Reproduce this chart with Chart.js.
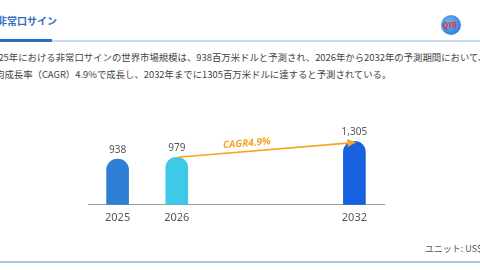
<!DOCTYPE html>
<html>
<head>
<meta charset="utf-8">
<script src="https://cdn.jsdelivr.net/npm/chart.js@4.4.0/dist/chart.umd.min.js"></script>
<style>
  html, body { margin: 0; padding: 0; }
  body { width: 480px; height: 270px; overflow: hidden; position: relative; background: #fff;
         font-family: "Noto Sans CJK JP", "Noto Sans", sans-serif; }
  .title { position: absolute; left: -3px; top: 13px; font-size: 10px; font-weight: bold; color: #2f6fc0; white-space: nowrap; }
  .rule { position: absolute; left: 0; top: 40px; width: 480px; height: 2px; background: #c9dbf0; }
  .rule-strong { position: absolute; left: 0; top: 39px; width: 52px; height: 3px; background: #2b6cc4; }
  .desc { position: absolute; font-size: 9.4px; color: #444; white-space: nowrap; }
  .unit { position: absolute; right: -2px; top: 242px; font-size: 9px; color: #555; white-space: nowrap; }
  .footer { position: absolute; left: 0; top: 261px; width: 480px; height: 2px; background: #a9c4e6; }
  .logo { position: absolute; left: 441px; top: 15px; width: 20px; height: 20px; border-radius: 50%;
          background: radial-gradient(circle at 40% 35%, #6fb4f0, #1f6fd0); }
  .logo span { position: absolute; left: 2px; top: 5px; font-size: 7px; font-weight: bold; color: #e0302a; }
  #wrap { position: absolute; left: 0; top: 100px; width: 480px; height: 132px; }
</style>
</head>
<body>
<div class="title">非常口サイン</div>
<div class="rule"></div>
<div class="rule-strong"></div>
<div class="logo"><span>QYR</span></div>
<div class="desc" style="left:-12px; top:50px;">2025年における非常口サインの世界市場規模は、938百万米ドルと予測され、2026年から2032年の予測期間において、年平</div>
<div class="desc" style="left:-5px; top:67px;">均成長率（CAGR）4.9%で成長し、2032年までに1305百万米ドルに達すると予測されている。</div>
<div class="unit">ユニット: US$</div>
<div class="footer"></div>
<div id="wrap"><canvas id="chart"></canvas></div>

<script>
//Data
var years = ["2025", "2026", "", "", "2032"];
var marketSize = [938, 979, null, null, 1305];
var valueLabels = ["938", "979", "", "", "1,305"];
var barColors = ["#2f7fd6", "#3ec9e6", "#2f7fd6", "#2f7fd6", "#1760df"];
var cagrText = "CAGR4.9%";

//Value labels above each bar + the CAGR arrow between 2026 and 2032
var overlayPlugin = {
  id: 'overlay',
  afterDatasetsDraw: function (chart) {
    var ctx = chart.ctx;
    var meta = chart.getDatasetMeta(0);
    ctx.save();
    ctx.font = '10px "Noto Sans", sans-serif';
    ctx.fillStyle = '#555';
    ctx.textAlign = 'center';
    ctx.textBaseline = 'bottom';
    meta.data.forEach(function (bar, i) {
      if (marketSize[i] == null) return;
      ctx.fillText(valueLabels[i], bar.x, bar.y - 4);
    });

    var from = meta.data[1], to = meta.data[4];
    var x1 = from.x + 1, y1 = from.y, x2 = to.x + 2, y2 = to.y + 1;
    var ang = Math.atan2(y2 - y1, x2 - x1);
    ctx.strokeStyle = '#f5a524';
    ctx.fillStyle = '#f5a524';
    ctx.lineWidth = 1.6;
    ctx.beginPath();
    ctx.moveTo(x1, y1);
    ctx.lineTo(x2 - 6 * Math.cos(ang), y2 - 6 * Math.sin(ang));
    ctx.stroke();
    ctx.beginPath();
    ctx.moveTo(x2, y2);
    ctx.lineTo(x2 - 9 * Math.cos(ang) + 4 * Math.sin(ang), y2 - 9 * Math.sin(ang) - 4 * Math.cos(ang));
    ctx.lineTo(x2 - 9 * Math.cos(ang) - 4 * Math.sin(ang), y2 - 9 * Math.sin(ang) + 4 * Math.cos(ang));
    ctx.closePath();
    ctx.fill();

    var tx = x1 + (x2 - x1) * 0.39, ty = y1 + (y2 - y1) * 0.39;
    ctx.translate(tx, ty);
    ctx.rotate(ang);
    ctx.font = 'italic bold 10px "Open Sans", sans-serif';
    ctx.textBaseline = 'bottom';
    ctx.fillText(cagrText, 0, -3);
    ctx.restore();
  }
};

var myChart = new Chart(document.getElementById('chart'), {
  type: 'bar',
  data: {
    labels: years,
    datasets: [{
      data: marketSize,
      backgroundColor: barColors,
      barThickness: 22,
      borderRadius: 11,
      borderSkipped: 'start'
    }]
  },
  options: {
    responsive: true,
    maintainAspectRatio: false,
    animation: false,
    layout: { padding: { left: 88, right: 96, top: 10, bottom: 2 } },
    plugins: { legend: { display: false }, tooltip: { enabled: false } },
    scales: {
      x: {
        grid: { display: false, drawTicks: false },
        border: { display: true, color: '#999', width: 1 },
        ticks: { color: '#555', font: { size: 11, family: '"Noto Sans", sans-serif' }, padding: 6 }
      },
      y: { display: false, min: 0, max: 1950 }
    }
  },
  plugins: [overlayPlugin]
});
</script>
</body>
</html>
